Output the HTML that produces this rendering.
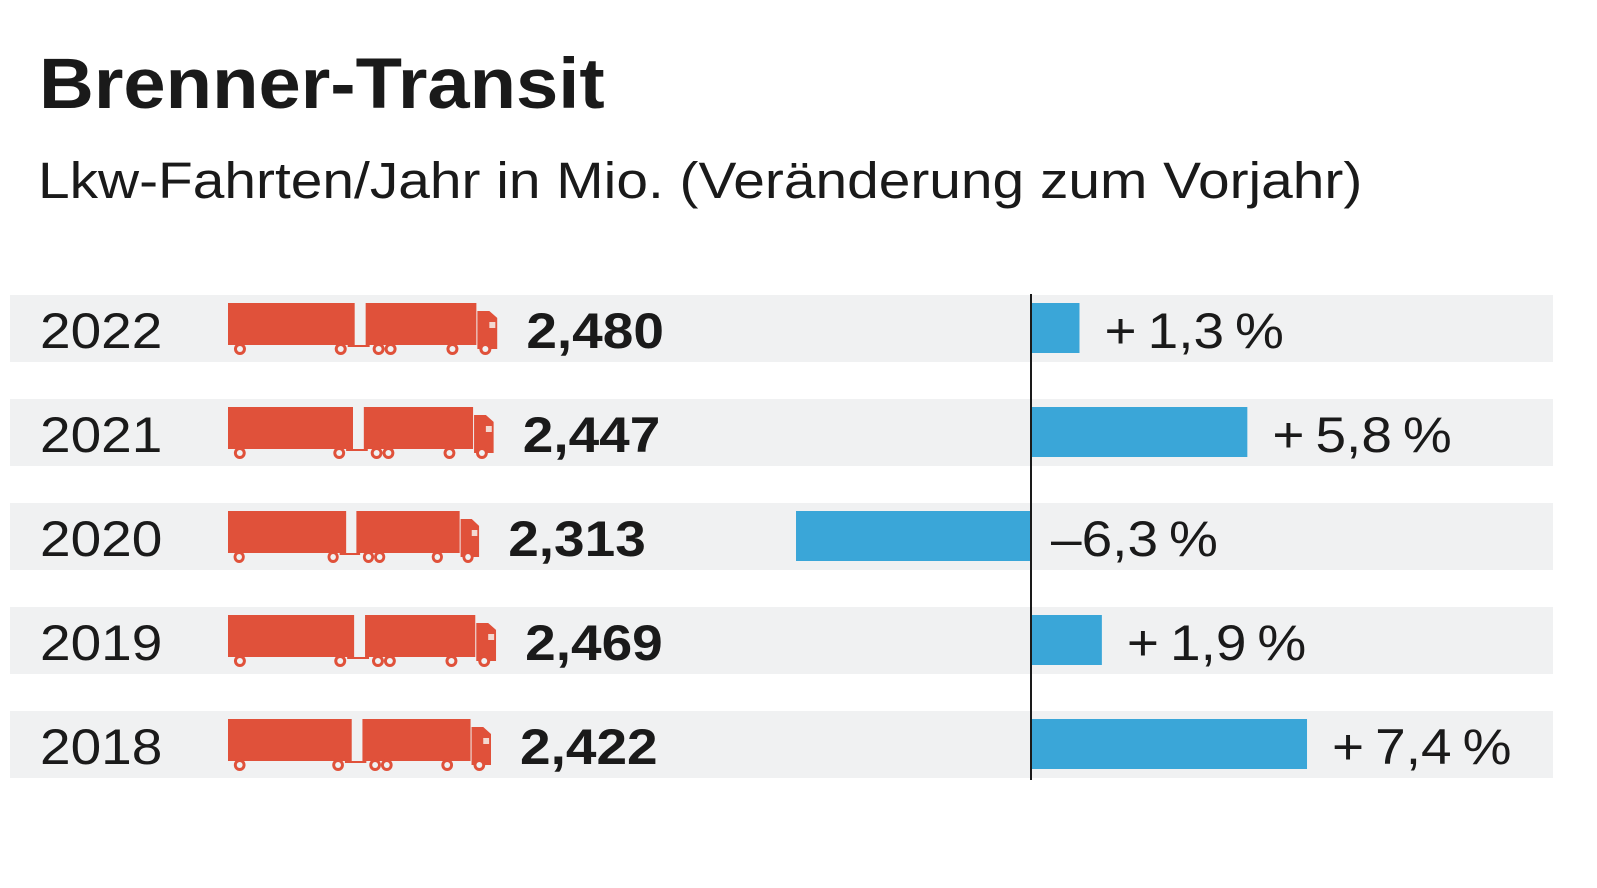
<!DOCTYPE html>
<html><head><meta charset="utf-8"><style>
body{margin:0;width:1597px;height:888px;background:#fff;font-family:"Liberation Sans",sans-serif;color:#1a1a1a;overflow:hidden;position:relative}
.t{position:absolute;white-space:nowrap;transform-origin:0 0}
</style></head><body>
<div class="t" style="left:39px;top:44px;font-size:71px;font-weight:bold;transform:scaleX(1.07)">Brenner-Transit</div>
<div class="t" style="left:38px;top:151px;font-size:51px;transform:scaleX(1.115)">Lkw-Fahrten/Jahr in Mio. (Veränderung zum Vorjahr)</div>
<svg id="c" width="1597" height="888" style="position:absolute;left:0;top:0" font-family="Liberation Sans, sans-serif"></svg>
<script>
const years=["2022","2021","2020","2019","2018"];
const values=[2.480,2.447,2.313,2.469,2.422];
const valueLabels=["2,480","2,447","2,313","2,469","2,422"];
const changes=[1.3,5.8,-6.3,1.9,7.4];
const changeLabels=["+\u20091,3\u2009%","+\u20095,8\u2009%","\u20136,3\u2009%","+\u20091,9\u2009%","+\u20097,4\u2009%"];
const svg=document.getElementById('c');const NS='http://www.w3.org/2000/svg';
function mk(tag,attrs,parent){const e=document.createElementNS(NS,tag);for(const k in attrs)e.setAttribute(k,attrs[k]);(parent||svg).appendChild(e);return e;}
const axisX=1031,pxPerPct=37.3;
const xc=p=>axisX+p*pxPerPct;
const rowY=i=>295+i*104;
const truckW=v=>v*108.6;
function txt(x,y,s,bold){const t=mk('text',{transform:`translate(${x},${y}) scale(1.1,1)`,'font-size':50,fill:'#1a1a1a'});if(bold)t.setAttribute('font-weight','bold');t.textContent=s;return t;}
years.forEach((y,i)=>{
  const top=rowY(i);
  const bg=mk('rect',{x:10,y:top,width:1543,height:67,fill:'#f0f1f2'});
  
  
  const yt=txt(40,top+53,y,false);
  
  
  const w=truckW(values[i]);
  const g=mk('svg',{x:228,y:top+6,width:w,height:60,viewBox:'0 0 270 60',preserveAspectRatio:'none'});
  
  
  const red='#e0513a';
  mk('rect',{x:0,y:2,width:127,height:42,fill:red},g);
  mk('rect',{x:138,y:2,width:111,height:42,fill:red},g);
  mk('path',{d:'M250 10 L262 10 L270 17 L270 48 L250 48 Z',fill:red},g);
  mk('rect',{x:262,y:21,width:6,height:6,fill:'#f3d8d0'},g);
  mk('rect',{x:120,y:44,width:22,height:2,fill:red},g);
  [12,113,151,163,225,258].forEach(cx=>{mk('circle',{cx:cx,cy:48,r:6,fill:red},g);mk('circle',{cx:cx,cy:48,r:3,fill:'#f0f1f2'},g);});
  const vt=txt(228+w+29,top+53,valueLabels[i],true);
  
  
  const c=changes[i];const x0=Math.min(xc(0),xc(c)),x1=Math.max(xc(0),xc(c));
  const b=mk('rect',{x:x0,y:top+8,width:x1-x0,height:50,fill:'#3aa6d8'});
  
  
  const ct=txt(c>=0?x1+25:axisX+20,top+53,changeLabels[i],false);
  
  
});
const ax=mk('line',{x1:axisX,x2:axisX,y1:294,y2:780,stroke:'#1a1a1a','stroke-width':2});


</script>
</body></html>
